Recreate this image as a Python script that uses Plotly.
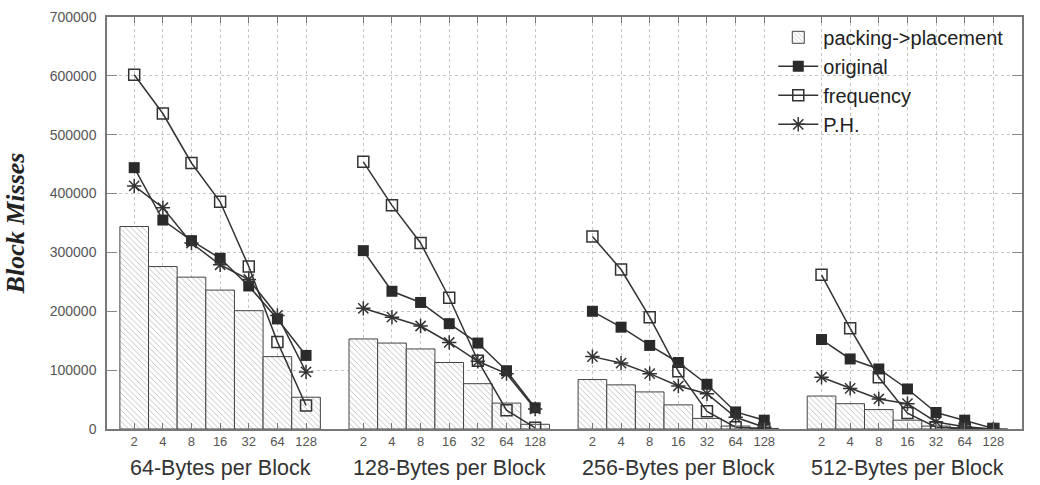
import plotly.graph_objects as go

# ---- data ----
block_sizes = ["2", "4", "8", "16", "32", "64", "128"]
group_labels = ["64-Bytes per Block", "128-Bytes per Block",
                "256-Bytes per Block", "512-Bytes per Block"]

packing_placement = [
    [344000, 276000, 258000, 236000, 201000, 123000, 54000],
    [153000, 146000, 136000, 113000, 77000, 44000, 8000],
    [84000, 75000, 63000, 41000, 18000, 5000, 1000],
    [56000, 43000, 33000, 15000, 5000, 1000, 0],
]
original = [
    [444000, 355000, 320000, 290000, 243000, 187000, 125000],
    [303000, 234000, 215000, 179000, 146000, 99000, 36000],
    [200000, 173000, 142000, 113000, 76000, 29000, 15000],
    [152000, 119000, 102000, 68000, 28000, 15000, 1000],
]
frequency = [
    [602000, 536000, 452000, 386000, 276000, 148000, 40000],
    [454000, 380000, 316000, 223000, 116000, 32000, 2000],
    [327000, 271000, 190000, 98000, 30000, 3000, 1000],
    [262000, 171000, 88000, 27000, 3000, 1000, 0],
]
ph = [
    [413000, 376000, 316000, 279000, 254000, 193000, 97000],
    [205000, 190000, 175000, 147000, 115000, 94000, 34000],
    [123000, 112000, 94000, 73000, 60000, 20000, 3000],
    [88000, 69000, 51000, 43000, 12000, 4000, 0],
]

SLOTS = len(block_sizes) + 1  # one empty slot between groups


def series_xy(vals, gaps=True):
    xs, ys = [], []
    for g, row in enumerate(vals):
        for i, v in enumerate(row):
            xs.append(g * SLOTS + i)
            ys.append(v)
        if gaps:
            xs.append(g * SLOTS + len(row))
            ys.append(None)
    return xs, ys


tickvals, ticktext = [], []
for g in range(len(group_labels)):
    for i, lab in enumerate(block_sizes):
        tickvals.append(g * SLOTS + i)
        ticktext.append(lab)

SANS = "Liberation Sans, Arial, sans-serif"
LINE = "#333333"
GRID = "#c4c4c4"

fig = go.Figure()

bx, by = series_xy(packing_placement, gaps=False)
fig.add_trace(go.Bar(
    x=bx, y=by, width=1.0, name="packing->placement",
    marker=dict(color="white", line=dict(color="#444444", width=1),
                pattern=dict(shape="\\", fgcolor="#6a6a6a", bgcolor="white",
                             size=4, solidity=0.2)),
))

for name, vals, marker in [
    ("original", original, dict(symbol="square", size=11, color="#2a2a2a")),
    ("frequency", frequency, dict(symbol="square-open", size=11, color="#333333",
                                  line=dict(width=1.5))),
    ("P.H.", ph, dict(symbol="asterisk-open", size=12, color="#333333",
                      line=dict(width=1.5))),
]:
    xs, ys = series_xy(vals)
    fig.add_trace(go.Scatter(
        x=xs, y=ys, name=name, mode="lines+markers", connectgaps=False,
        line=dict(color=LINE, width=1.5), marker=marker,
    ))

annotations = []
for g, lab in enumerate(group_labels):
    annotations.append(dict(
        x=g * SLOTS + (len(block_sizes) - 1) / 2, xref="x",
        y=-0.095, yref="paper", yanchor="middle", showarrow=False,
        text=lab, font=dict(family=SANS, size=21.5, color="#333333"),
    ))

fig.update_layout(
    width=1040, height=485,
    margin=dict(l=107, r=18, t=9, b=56),
    paper_bgcolor="white", plot_bgcolor="white",
    showlegend=True,
    legend=dict(x=0.985, xanchor="right", y=0.998, yanchor="top",
                bgcolor="rgba(0,0,0,0)", font=dict(family=SANS, size=20, color="#222222"),
                tracegroupgap=0, itemwidth=40),
    annotations=annotations,
    shapes=[dict(type="rect", xref="paper", yref="paper",
                 x0=0.651, x1=0.999, y0=0.571, y1=0.998,
                 fillcolor="white", line=dict(width=0), layer="between")],
    xaxis=dict(
        range=[-0.95, 31], tickmode="array", tickvals=tickvals, ticktext=ticktext,
        showgrid=True, griddash="dot", gridcolor=GRID, gridwidth=1,
        ticks="inside", ticklen=6, tickcolor="#777777", zeroline=False,
        showline=True, linecolor="#777777", linewidth=1.5, mirror="ticks",
        tickfont=dict(family=SANS, size=13, color="#555555"),
    ),
    yaxis=dict(
        range=[0, 700000], dtick=100000, tickformat="d",
        showgrid=True, griddash="dot", gridcolor=GRID, gridwidth=1,
        ticks="inside", ticklen=10, tickcolor="#888888", zeroline=False,
        showline=True, linecolor="#777777", linewidth=1.5, mirror="ticks",
        tickfont=dict(family=SANS, size=14, color="#555555"),
        ticklabelstandoff=6,
        title=dict(text="Block Misses", standoff=18,
                   font=dict(family="Liberation Serif, Times New Roman, serif",
                             size=26, color="#222222", style="italic", weight="bold")),
    ),
)

fig.write_html("out.html")
